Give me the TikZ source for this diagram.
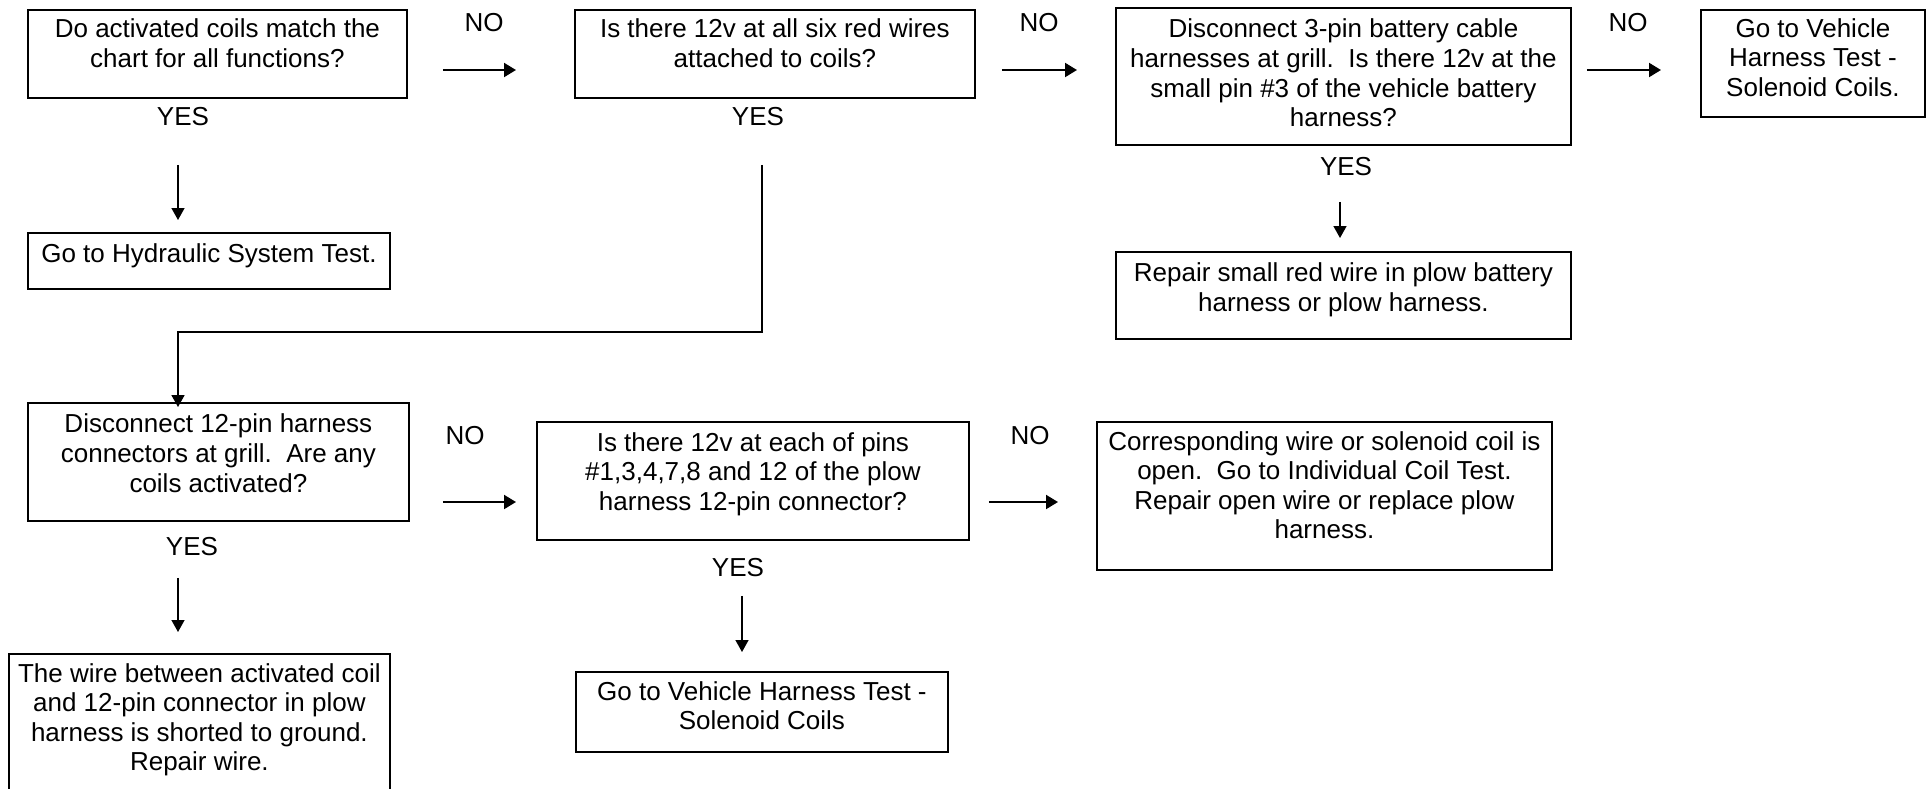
\documentclass[tikz,border=0pt]{standalone}
\usepackage{fontspec}
\setmainfont{Liberation Sans}
\usetikzlibrary{arrows.meta}
\newcommand{\boxtext}[4]{\parbox[c][#2][t]{#1}{\centering\vspace*{#3}\strut #4\par}}
\begin{document}
\begin{tikzpicture}[x=0.5pt,y=-0.5pt,
  box/.style={draw, line width=0.9pt, inner sep=0pt, anchor=north west, font=\fontsize{13}{14.8}\selectfont},
  lbl/.style={inner sep=0pt, font=\fontsize{13}{14.8}\selectfont},
  harrow/.style={line width=1pt, -{Triangle[length=6pt,width=7pt]}},
  varrow/.style={line width=0.7pt, -{Triangle[length=6pt,width=6.5pt]}},
  conn/.style={line width=0.9pt, -{Triangle[length=6pt,width=6.5pt]}}]
\useasboundingbox (0,0) rectangle (1927,788);
% boxes
\node[box] (A) at (27,9) {\boxtext{189.5pt}{44pt}{3.6pt}{Do activated coils match the\\chart for all functions?}};
\node[box] (B) at (574,9) {\boxtext{200pt}{44pt}{3.6pt}{Is there 12v at all six red wires\\attached to coils?}};
\node[box] (Hyd) at (27,232) {\boxtext{181pt}{28pt}{4.6pt}{Go to Hydraulic System Test.}};
\node[box] (C) at (1115,7) {\boxtext{227.5pt}{68.5pt}{4.6pt}{Disconnect 3-pin battery cable\\harnesses at grill.\ \ Is there 12v at the\\small pin \#3 of the vehicle battery\\harness?}};
\node[box] (E) at (1700,9) {\boxtext{112pt}{53.5pt}{3.2pt}{Go to Vehicle\\Harness Test -\\Solenoid Coils.}};
\node[box] (Rep) at (1115,251) {\boxtext{227.5pt}{43.5pt}{4.6pt}{Repair small red wire in plow battery\\harness or plow harness.}};
\node[box] (D) at (27,402) {\boxtext{190.5pt}{59pt}{4.6pt}{Disconnect 12-pin harness\\connectors at grill.\ \ Are any\\coils activated?}};
\node[box] (F) at (536,421) {\boxtext{216pt}{59pt}{4.2pt}{Is there 12v at each of pins\\\#1,3,4,7,8 and 12 of the plow\\harness 12-pin connector?}};
\node[box] (G) at (1096,421) {\boxtext{227.5pt}{74pt}{3.7pt}{Corresponding wire or solenoid coil is\\open.\ \ Go to Individual Coil Test.\\Repair open wire or replace plow\\harness.}};
\node[box] (H) at (8,653) {\boxtext{190.5pt}{72pt}{3.7pt}{The wire between activated coil\\and 12-pin connector in plow\\harness is shorted to ground.\\Repair wire.}};
\node[box] (I) at (575,671) {\boxtext{186pt}{40pt}{3.7pt}{Go to Vehicle Harness Test -\\Solenoid Coils}};
% labels
\node[lbl] (no1) at (484,23) {NO};
\node[lbl] (no2) at (1039,23) {NO};
\node[lbl] (no3) at (1628,23) {NO};
\node[lbl] (no4) at (465,436) {NO};
\node[lbl] (no5) at (1030,436) {NO};
\node[lbl] (yes1) at (183,117) {YES};
\node[lbl] (yes2) at (758,117) {YES};
\node[lbl] (yes3) at (1346,167) {YES};
\node[lbl] (yes4) at (192,547) {YES};
\node[lbl] (yes5) at (738,568) {YES};
% guide coordinates
\coordinate (r1) at (0,70);
\coordinate (r2) at (0,502);
\coordinate (r3) at (0,332);
\coordinate (c1) at (178,0);
\coordinate (cB) at (762,0);
\coordinate (cC) at (1340,0);
\coordinate (cF) at (742,0);
% horizontal arrows
\draw[harrow, shorten <=17.5pt, shorten >=29pt] (A.east |- r1) -- (B.west |- r1);
\draw[harrow, shorten <=13pt, shorten >=19pt] (B.east |- r1) -- (C.west |- r1);
\draw[harrow, shorten <=7.5pt, shorten >=19.5pt] (C.east |- r1) -- (E.west |- r1);
\draw[harrow, shorten <=16.5pt, shorten >=10pt] (D.east |- r2) -- (F.west |- r2);
\draw[harrow, shorten <=9.5pt, shorten >=19pt] (F.east |- r2) -- (G.west |- r2);
% vertical arrows
\draw[varrow, shorten <=33pt, shorten >=6pt] (A.south -| c1) -- (Hyd.north -| c1);
\draw[varrow, shorten <=28pt, shorten >=6.5pt] (C.south -| cC) -- (Rep.north -| cC);
\draw[varrow, shorten <=28pt, shorten >=10.5pt] (D.south -| c1) -- (H.north -| c1);
\draw[varrow, shorten <=27.5pt, shorten >=9.5pt] (F.south -| cF) -- (I.north -| cF);
\draw[conn, shorten <=33pt, shorten >=-2.5pt] (B.south -| cB) |- (r3 -| c1) -- (D.north -| c1);
\end{tikzpicture}
\end{document}
